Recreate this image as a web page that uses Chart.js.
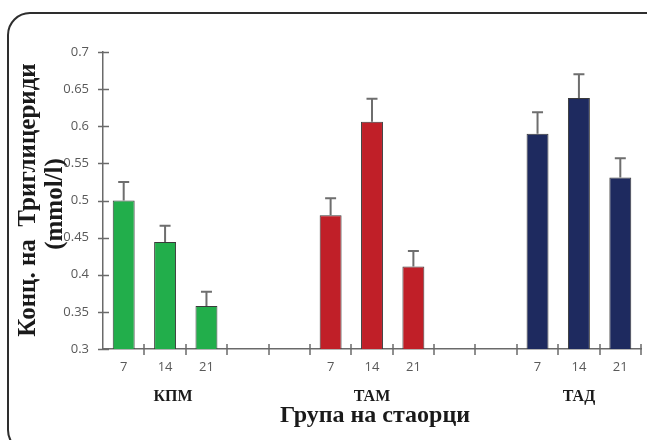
<!DOCTYPE html>
<html>
<head>
<meta charset="utf-8">
<script src="https://cdn.jsdelivr.net/npm/chart.js@4/dist/chart.umd.min.js"></script>
<style>
  html, body { margin: 0; padding: 0; background: #fff; }
  #wrap { width: 647px; height: 440px; }
</style>
</head>
<body>
<div id="wrap"><canvas id="c" width="647" height="440"></canvas></div>
<script>
// Day of sampling within each group, with two empty slots between groups
const categories = ['7', '14', '21', '', '', '7', '14', '21', '', '', '7', '14', '21'];
const groupNames = ['КПМ', 'ТАМ', 'ТАД'];
const groupStart = [0, 5, 10];

// Triglyceride concentration (mmol/l), mean and error per day
const kpmMeans  = [0.500, 0.444, 0.358];
const kpmErrors = [0.025, 0.022, 0.019];
const tamMeans  = [0.480, 0.606, 0.411];
const tamErrors = [0.023, 0.031, 0.021];
const tadMeans  = [0.590, 0.638, 0.531];
const tadErrors = [0.029, 0.032, 0.026];

const yMin = 0.3, yMax = 0.7, yStep = 0.05;

const yTitleLines = ['Конц. на  Триглицериди', '(mmol/l)'];
const xTitle = 'Група на стаорци';

const colors = ['#22ae4b', '#c01f28', '#1e2a5f'];

// place a group's three values into its slots of the 13-slot axis
function spread(values, start) {
  const out = categories.map(() => null);
  values.forEach((v, i) => { out[start + i] = v; });
  return out;
}

const meansByGroup = [kpmMeans, tamMeans, tadMeans];
const errorsByGroup = [kpmErrors, tamErrors, tadErrors];

const datasets = meansByGroup.map((m, g) => ({
  label: groupNames[g],
  data: spread(m, groupStart[g]),
  errors: spread(errorsByGroup[g], groupStart[g]),
  backgroundColor: colors[g],
  borderColor: '#3a3a3a',
  borderWidth: 1,
  borderSkipped: 'bottom',
  barPercentage: 0.53,
  categoryPercentage: 1.0,
  grouped: false
}));

const AXIS_COLOR = '#6a6a6a';
const SERIF = '"Liberation Serif", "Times New Roman", serif';
const SANS = '"Open Sans", "Liberation Sans", sans-serif';

const decorations = {
  id: 'decorations',
  beforeDraw(chart) {
    const ctx = chart.ctx;
    // rounded frame around the figure
    ctx.save();
    ctx.strokeStyle = '#2e2e2e';
    ctx.lineWidth = 2;
    const x0 = 8, y0 = 13, x1 = 668, y1 = 452, r = 22;
    ctx.beginPath();
    ctx.moveTo(x0 + r, y0);
    ctx.lineTo(x1 - r, y0);
    ctx.arcTo(x1, y0, x1, y0 + r, r);
    ctx.lineTo(x1, y1 - r);
    ctx.arcTo(x1, y1, x1 - r, y1, r);
    ctx.lineTo(x0 + r, y1);
    ctx.arcTo(x0, y1, x0, y1 - r, r);
    ctx.lineTo(x0, y0 + r);
    ctx.arcTo(x0, y0, x0 + r, y0, r);
    ctx.closePath();
    ctx.stroke();
    ctx.restore();
  },
  afterDatasetsDraw(chart) {
    const ctx = chart.ctx;
    const xs = chart.scales.x, ys = chart.scales.y;
    const area = chart.chartArea;
    ctx.save();

    // error bars (upper half only)
    ctx.strokeStyle = '#6e6e6e';
    ctx.lineWidth = 2;
    chart.data.datasets.forEach((ds, di) => {
      const meta = chart.getDatasetMeta(di);
      ds.data.forEach((v, i) => {
        if (v == null) return;
        const bar = meta.data[i];
        const yTop = ys.getPixelForValue(v + ds.errors[i]);
        ctx.beginPath();
        ctx.moveTo(bar.x, ys.getPixelForValue(v));
        ctx.lineTo(bar.x, yTop);
        ctx.moveTo(bar.x - 5.5, yTop);
        ctx.lineTo(bar.x + 5.5, yTop);
        ctx.stroke();
      });
    });

    // tick marks crossing both axes
    ctx.strokeStyle = AXIS_COLOR;
    ctx.lineWidth = 1.5;
    for (let v = yMin; v <= yMax + 1e-9; v += yStep) {
      const y = Math.round(ys.getPixelForValue(v)) + 0.5;
      ctx.beginPath();
      ctx.moveTo(area.left - 5, y);
      ctx.lineTo(area.left + 6, y);
      ctx.stroke();
    }
    const slot = (area.right - area.left) / categories.length;
    for (let i = 1; i <= categories.length; i++) {
      const x = Math.round(area.left + i * slot);
      ctx.beginPath();
      ctx.moveTo(x, area.bottom - 5);
      ctx.lineTo(x, area.bottom + 6);
      ctx.stroke();
    }

    // group names under the middle day of each group
    ctx.fillStyle = '#1a1a1a';
    ctx.font = 'bold 16px ' + SERIF;
    ctx.textAlign = 'center';
    ctx.textBaseline = 'middle';
    groupNames.forEach((name, g) => {
      const x = xs.getPixelForValue(groupStart[g] + 1);
      ctx.fillText(name, x + (g === 0 ? 8 : 0), 397);
    });

    // axis titles
    ctx.font = 'bold 24px ' + SERIF;
    ctx.fillText(xTitle, 375, 416);

    ctx.font = 'bold 25px ' + SERIF;
    ctx.save();
    ctx.translate(29, 200);
    ctx.rotate(-Math.PI / 2);
    ctx.fillText(yTitleLines[0], 0, 0);
    ctx.restore();
    ctx.save();
    ctx.translate(56, 204);
    ctx.rotate(-Math.PI / 2);
    ctx.fillText(yTitleLines[1], 0, 0);
    ctx.restore();

    ctx.restore();
  }
};

new Chart(document.getElementById('c'), {
  type: 'bar',
  data: { labels: categories, datasets },
  options: {
    responsive: false,
    animation: false,
    devicePixelRatio: 1,
    layout: { padding: { top: 52, right: 6, left: 0, bottom: 0 } },
    plugins: { legend: { display: false }, tooltip: { enabled: false } },
    scales: {
      x: {
        offset: true,
        grid: { display: false, drawTicks: false },
        border: { display: true, color: AXIS_COLOR, width: 1.5 },
        ticks: {
          color: '#595959',
          padding: 10,
          maxRotation: 0,
          autoSkip: false,
          font: { family: SANS, size: 13 }
        },
        afterFit(scale) { scale.height = 91; }
      },
      y: {
        min: yMin,
        max: yMax,
        grid: { display: false, drawTicks: false },
        border: { display: true, color: AXIS_COLOR, width: 1.5 },
        ticks: {
          stepSize: yStep,
          color: '#595959',
          padding: 14,
          font: { family: SANS, size: 13 },
          callback: v => String(+v.toFixed(2))
        },
        afterFit(scale) { scale.width = 103; }
      }
    }
  },
  plugins: [decorations]
});
</script>
</body>
</html>
